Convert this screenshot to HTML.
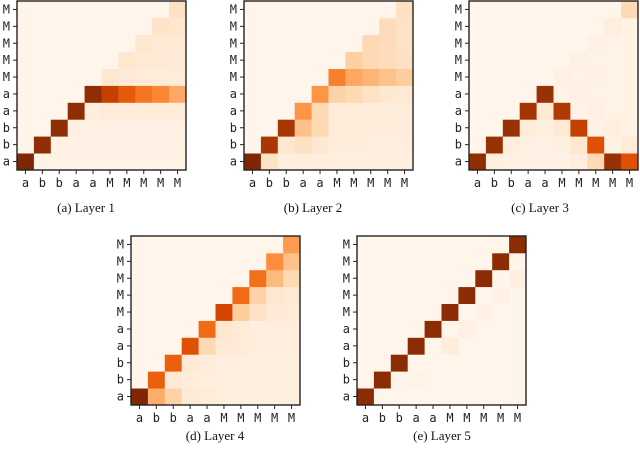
<!DOCTYPE html>
<html><head><meta charset="utf-8"><style>
body{margin:0;background:#fff;width:640px;height:456px;overflow:hidden}
svg{display:block}
.t{font-family:"DejaVu Sans Mono","Liberation Mono",monospace;font-size:12px;fill:#222}
.cap{font-family:"Liberation Serif",serif;font-size:13px;fill:#111}
</style></head><body>
<svg id="fig" width="640" height="456" viewBox="0 0 640 456"></svg>
<script>
const tokens = ["a","b","b","a","a","M","M","M","M","M"];
const captions = ["(a) Layer 1","(b) Layer 2","(c) Layer 3","(d) Layer 4","(e) Layer 5"];
// values[row][col], row 0 = bottom row
const layer1 = [
[1,.02,.02,.02,.02,.02,.02,.02,.02,.02],
[0,.95,.03,.03,.03,.03,.03,.03,.03,.03],
[0,0,.95,.04,.04,.04,.04,.04,.04,.04],
[0,0,0,.95,.06,.08,.08,.08,.08,.08],
[0,0,0,0,.95,.8,.68,.58,.52,.4],
[0,0,0,0,0,.12,.09,.08,.08,.08],
[0,0,0,0,0,0,.12,.1,.1,.09],
[0,0,0,0,0,0,0,.12,.1,.1],
[0,0,0,0,0,0,0,0,.14,.12],
[0,0,0,0,0,0,0,0,0,.16]];
const layer2 = [
[1,.15,.06,.06,.06,.05,.05,.05,.05,.05],
[0,.87,.12,.16,.11,.07,.07,.06,.06,.06],
[0,0,.87,.3,.2,.08,.08,.07,.07,.07],
[0,0,0,.47,.2,.08,.08,.07,.07,.07],
[0,0,0,0,.47,.24,.2,.15,.11,.1],
[0,0,0,0,0,.55,.4,.35,.3,.26],
[0,0,0,0,0,0,.25,.2,.18,.16],
[0,0,0,0,0,0,0,.2,.18,.15],
[0,0,0,0,0,0,0,0,.18,.15],
[0,0,0,0,0,0,0,0,0,.16]];
const layer3 = [
[.95,.05,.03,.03,.03,.03,.06,.2,.92,.72],
[0,.92,.06,.04,.03,.05,.12,.72,.03,.08],
[0,0,.92,.08,.05,.1,.8,.03,.05,.03],
[0,0,0,.88,.1,.85,.02,.04,.02,.02],
[0,0,0,0,.92,.02,.03,.02,.02,.02],
[0,0,0,0,0,.04,.02,.03,.02,.02],
[0,0,0,0,0,0,.03,.02,.02,.02],
[0,0,0,0,0,0,0,.03,.02,.02],
[0,0,0,0,0,0,0,0,.06,.02],
[0,0,0,0,0,0,0,0,0,.2]];
const layer4 = [
[1,.38,.24,.1,.08,.05,.05,.05,.05,.05],
[0,.66,.1,.07,.06,.05,.05,.05,.05,.05],
[0,0,.66,.1,.07,.06,.05,.05,.05,.05],
[0,0,0,.72,.2,.1,.08,.06,.06,.06],
[0,0,0,0,.62,.12,.08,.06,.06,.06],
[0,0,0,0,0,.76,.26,.14,.09,.08],
[0,0,0,0,0,0,.62,.24,.12,.1],
[0,0,0,0,0,0,0,.6,.33,.2],
[0,0,0,0,0,0,0,0,.5,.3],
[0,0,0,0,0,0,0,0,0,.45]];
const layer5 = [
[.96,0,0,0,0,0,0,0,0,0],
[0,.96,0,.02,0,0,0,0,0,0],
[0,0,.96,0,0,0,0,0,0,0],
[0,0,0,.96,0,.07,0,0,0,0],
[0,0,0,0,.96,0,.04,0,0,0],
[0,0,0,0,0,.96,0,.03,0,0],
[0,0,0,0,0,0,.96,0,.03,0],
[0,0,0,0,0,0,0,.96,0,.05],
[0,0,0,0,0,0,0,0,.96,0],
[0,0,0,0,0,0,0,0,0,.96]];
const layers = [layer1,layer2,layer3,layer4,layer5];
const panels = [{x:17,y:1,cx:86,cy:212},{x:244,y:1,cx:313,cy:212},{x:469,y:1,cx:540,cy:212},{x:131,y:236,cx:215,cy:440},{x:357,y:236,cx:442,cy:440}];
const S = 169, N = 10, cs = S/N;
const stops = ["#fff5eb","#fee6ce","#fdd0a2","#fdae6b","#fd8d3c","#f16913","#d94801","#a63603","#7f2704"];
function hex(h){return [1,3,5].map(i=>parseInt(h.substr(i,2),16));}
function cmap(v){v=Math.max(0,Math.min(1,v));const p=v*8,i=Math.min(7,Math.floor(p)),f=p-i;const a=hex(stops[i]),b=hex(stops[i+1]);return `rgb(${a.map((x,k)=>Math.round(x+(b[k]-x)*f)).join(',')})`;}
const NS="http://www.w3.org/2000/svg";
const fig=document.getElementById('fig');
function mk(tag,attrs,parent){const e=document.createElementNS(NS,tag);for(const k in attrs)e.setAttribute(k,attrs[k]);parent.appendChild(e);return e;}
layers.forEach((M,pi)=>{
  const P=panels[pi];
  const g=mk('g',{},fig);
  
  
  const xs=c=>P.x+c*cs, ys=r=>P.y+(N-1-r)*cs;
  M.forEach((row,r)=>row.forEach((v,c)=>{
    const rc=mk('rect',{x:xs(c),y:ys(r),width:cs+0.4,height:cs+0.4,fill:cmap(v)},g);
    
    
  }));
  const fr=mk('rect',{x:P.x,y:P.y,width:S,height:S,fill:'none',stroke:'#222','stroke-width':1.4},g);
  
  
  tokens.forEach((t,i)=>{
    const yc=ys(i)+cs/2, xc=xs(i)+cs/2;
    mk('line',{x1:P.x-4,x2:P.x,y1:yc,y2:yc,stroke:'#222','stroke-width':1},g);
    mk('line',{x1:xc,x2:xc,y1:P.y+S,y2:P.y+S+4,stroke:'#222','stroke-width':1},g);
    const yl=mk('text',{x:P.x-7,y:yc+4,'text-anchor':'end',class:'t'},g);yl.textContent=t;
    
    
    const xl=mk('text',{x:xc,y:P.y+S+17,'text-anchor':'middle',class:'t'},g);xl.textContent=t;
    
    
  });
  const cp=mk('text',{x:P.cx,y:P.cy,'text-anchor':'middle',class:'cap'},g);cp.textContent=captions[pi];
  
  
});
</script>
</body></html>
